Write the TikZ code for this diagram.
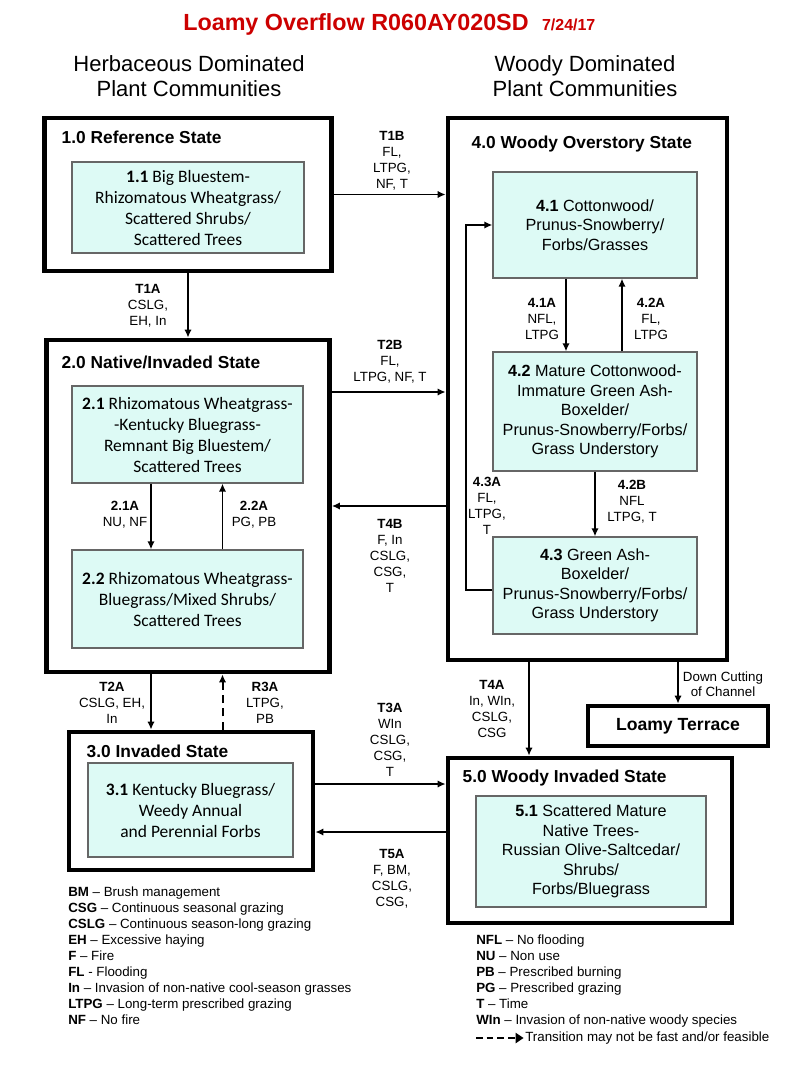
\documentclass[tikz,border=0pt]{standalone}
\usepackage{fontspec}
\setmainfont{Liberation Sans}
\newfontfamily\calibri{Carlito}
\usetikzlibrary{arrows.meta}
\definecolor{commfill}{RGB}{221,250,245}
\definecolor{titlered}{RGB}{204,0,0}
\tikzset{every node/.style={align=center}, >={Latex[length=6pt,width=5.5pt]},
  wh/.style 2 args={minimum width=#1*0.75pt, minimum height=#2*0.75pt},
  statebox/.style={draw, line width=3.5pt, inner sep=0pt},
  commbox/.style={draw=black!60, line width=0.9pt, fill=commfill, inner sep=0pt, font=\calibri\fontsize{13.1}{15.75}\selectfont},
  woodbox/.style={commbox, font=\fontsize{12.15}{14.6}\selectfont},
  statetitle/.style={anchor=west, font=\bfseries\fontsize{13}{15}\selectfont},
  trans/.style={->, line width=1.2pt},
  lbl/.style={font=\fontsize{10}{12}\selectfont, inner sep=0pt},
  legend/.style={anchor=west, align=left, font=\fontsize{10}{12}\selectfont, inner sep=0pt}}

\begin{document}
\begin{tikzpicture}[x=0.75pt,y=-0.75pt]
    \useasboundingbox (0,0) rectangle (800,1067);
    \node [anchor=base west, inner sep=0pt, text=titlered, font=\bfseries\fontsize{17.5}{20}\selectfont] (title) at (183,31)
        {Loamy Overflow R060AY020SD\hspace{10pt}{\fontsize{12}{14}\selectfont 7/24/17}};
    \node [font=\fontsize{16.5}{18.75}\selectfont] (herb) at (189,76) {Herbaceous Dominated\\Plant Communities};
    \node [font=\fontsize{16.5}{18.75}\selectfont] (wood) at (585,76) {Woody Dominated\\Plant Communities};

    \node [statebox, wh={287}{153}] (s1) at (188,194.5) {};
    \node [statebox, wh={283}{332}] (s2) at (188,506) {};
    \node [statebox, wh={244}{138}] (s3) at (191,801) {};
    \node [statebox, wh={279}{542}] (s4) at (587.5,389) {};
    \node [statebox, wh={284}{165}] (s5) at (590,840.5) {};
    \node [statebox, wh={180}{40}, font=\bfseries\fontsize{13.2}{15}\selectfont] (lt) at (678,726) {Loamy Terrace};
    \node [statetitle] (s1t) at (57,137) {1.0 Reference State};
    \node [statetitle] (s2t) at (57,362) {2.0 Native/Invaded State};
    \node [statetitle] (s3t) at (82,751) {3.0 Invaded State};
    \node [statetitle] (s4t) at (467,144) {4.0 Woody Overstory State};
    \node [statetitle] (s5t) at (458,778) {5.0 Woody Invaded State};

    \node [commbox, wh={232}{91}] (c11) at (188,207.5) {\textbf{1.1} Big Bluestem-\\Rhizomatous Wheatgrass/\\Scattered Shrubs/\\Scattered Trees};
    \node [commbox, wh={231}{97}] (c21) at (187.5,434.5) {\textbf{2.1} Rhizomatous Wheatgrass-\\-Kentucky Bluegrass-\\Remnant Big Bluestem/\\Scattered Trees};
    \node [commbox, wh={231}{98}] (c22) at (187.5,599) {\textbf{2.2} Rhizomatous Wheatgrass-\\Bluegrass/Mixed Shrubs/\\Scattered Trees};
    \node [commbox, wh={205}{94}] (c31) at (190.5,810) {\textbf{3.1} Kentucky Bluegrass/\\Weedy Annual\\and Perennial Forbs};
    \node [woodbox, wh={204}{106}] (c41) at (595,225) {\textbf{4.1} Cottonwood/\\Prunus-Snowberry/\\Forbs/Grasses};
    \node [woodbox, wh={204}{119}] (c42) at (595,411.5) {\textbf{4.2} Mature Cottonwood-\\Immature Green Ash-\\Boxelder/\\Prunus-Snowberry/Forbs/\\Grass Understory};
    \node [woodbox, wh={204}{97}] (c43) at (595,585.5) {\textbf{4.3} Green Ash-\\Boxelder/\\Prunus-Snowberry/Forbs/\\Grass Understory};
    \node [woodbox, wh={230}{111}] (c51) at (591,851.5) {\textbf{5.1} Scattered Mature\\Native Trees-\\Russian Olive-Saltcedar/\\Shrubs/\\Forbs/Bluegrass};

    \coordinate (colL) at (151,0);
    \coordinate (colR) at (222.5,0);
    \coordinate (col41A) at (566,0);
    \coordinate (col42A) at (622,0);
    \coordinate (colT4A) at (529,0);
    \coordinate (rowT2B) at (0,392);
    \coordinate (rowT3A) at (0,784);
    \coordinate (rowT5A) at (0,832);
    \coordinate (loop) at (466,590);

    \draw [trans] (s1) -- (s2);
    \draw [trans] (s1.east) -- (s1.east -| s4.west);
    \draw [trans] (s2.east |- rowT2B) -- (s4.west |- rowT2B);
    \draw [trans] (s4.west |- s2.east) -- (s2.east);
    \draw [trans] (c21.south -| colL) -- (c22.north -| colL);
    \draw [trans] (c22.north -| colR) -- (c21.south -| colR);
    \draw [trans] (s2.south -| colL) -- (s3.north -| colL);
    \draw [trans, dash pattern=on 6pt off 4pt, line width=1.5pt] (s3.north -| colR) -- (s2.south -| colR);
    \draw [trans] (s3.east |- rowT3A) -- (s5.west |- rowT3A);
    \draw [trans] (s5.west |- rowT5A) -- (s3.east |- rowT5A);
    \draw [trans] (s4.south -| colT4A) -- (s5.north -| colT4A);
    \draw [trans] (s4.south -| lt.north) -- (lt.north);
    \draw [trans] (c41.south -| col41A) -- (c42.north -| col41A);
    \draw [trans] (c42.north -| col42A) -- (c41.south -| col42A);
    \draw [trans] (c42) -- (c43);
    \draw [trans] (c43.west |- loop) -- (loop) |- (c41.west);

    \node [lbl] (t1a) at (148,306) {\textbf{T1A}\\CSLG,\\EH, In};
    \node [lbl] (t1b) at (392,161) {\textbf{T1B}\\FL,\\LTPG,\\NF, T};
    \node [lbl] (t2b) at (390,362) {\textbf{T2B}\\FL,\\LTPG, NF, T};
    \node [lbl] (t4b) at (390,556) {\textbf{T4B}\\F, In\\CSLG,\\CSG,\\T};
    \node [lbl] (p21a) at (125,515) {\textbf{2.1A}\\NU, NF};
    \node [lbl] (p22a) at (254,515) {\textbf{2.2A}\\PG, PB};
    \node [lbl] (t2a) at (112,703) {\textbf{T2A}\\CSLG, EH,\\In};
    \node [lbl] (r3a) at (265,703) {\textbf{R3A}\\LTPG,\\PB};
    \node [lbl] (t3a) at (390,740) {\textbf{T3A}\\WIn\\CSLG,\\CSG,\\T};
    \node [lbl] (t5a) at (392,878.5) {\textbf{T5A}\\F, BM,\\CSLG,\\CSG,};
    \node [lbl] (t4a) at (492,709) {\textbf{T4A}\\In, WIn,\\CSLG,\\CSG};
    \node [lbl, font=\fontsize{10}{11.25}\selectfont] (dc) at (723,684.5) {Down Cutting\\of Channel};
    \node [lbl] (p41a) at (542,319) {\textbf{4.1A}\\NFL,\\LTPG};
    \node [lbl] (p42a) at (651,319) {\textbf{4.2A}\\FL,\\LTPG};
    \node [lbl] (p42b) at (632,502) {\textbf{4.2B}\\NFL\\LTPG, T};
    \node [lbl] (p43a) at (487,506) {\textbf{4.3A}\\FL,\\LTPG,\\T};

    \node [legend] (leg1) at (68,956) {\textbf{BM} -- Brush management\\\textbf{CSG} -- Continuous seasonal grazing\\
        \textbf{CSLG} -- Continuous season-long grazing\\\textbf{EH} -- Excessive haying\\\textbf{F} -- Fire\\
        \textbf{FL} - Flooding\\\textbf{In} -- Invasion of non-native cool-season grasses\\
        \textbf{LTPG} -- Long-term prescribed grazing\\\textbf{NF} -- No fire};
    \node [legend] (leg2) at (476,981) {\textbf{NFL} -- No flooding\\\textbf{NU} -- Non use\\\textbf{PB} -- Prescribed burning\\
        \textbf{PG} -- Prescribed grazing\\\textbf{T} -- Time\\\textbf{WIn} -- Invasion of non-native woody species};
    \coordinate (dashstart) at (476,1038);
    \node [legend] (leg3) at (525,1038) {Transition may not be fast and/or feasible};
    \draw [-{Triangle[length=6pt,width=7.5pt]}, line width=2.2pt, dash pattern=on 5pt off 3pt] (dashstart) -- ([xshift=-1pt]leg3.west);
\end{tikzpicture}
\end{document}
